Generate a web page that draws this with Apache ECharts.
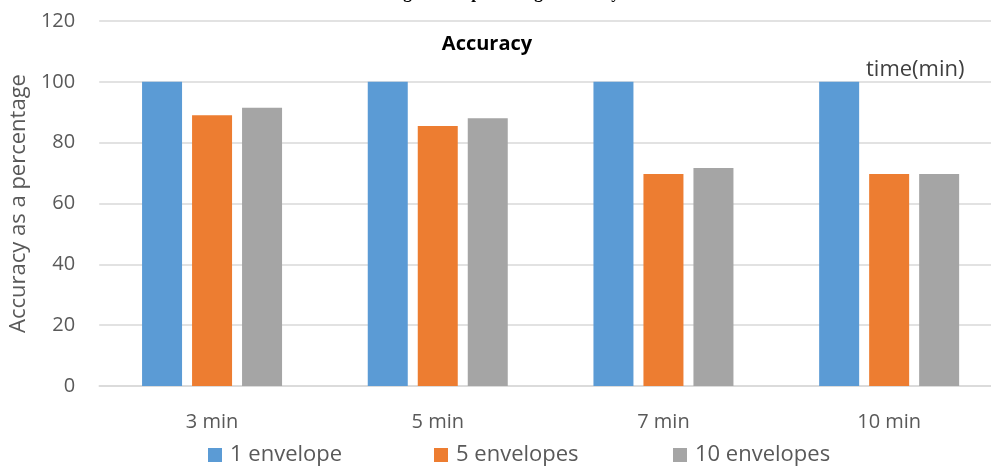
<!DOCTYPE html>
<html>
<head>
<meta charset="utf-8">
<script src="https://cdn.jsdelivr.net/npm/echarts@6/dist/echarts.min.js"></script>
<style>html,body{margin:0;padding:0;background:#fff;overflow:hidden;width:991px;height:469px;}#c{width:1002px;height:469px;}</style>
</head>
<body>
<div id="c"></div>
<script>
const categories = ['3 min', '5 min', '7 min', '10 min'];
const seriesNames = ['1 envelope', '5 envelopes', '10 envelopes'];
const oneEnvelope = [100, 100, 100, 100];
const fiveEnvelopes = [89, 85.5, 69.7, 69.7];
const tenEnvelopes = [91.5, 88, 71.7, 69.7];
const yTicks = [0, 20, 40, 60, 80, 100, 120];
const colors = ['#5B9BD5', '#ED7D31', '#A5A5A5'];

const font = 'Open Sans';
const chart = echarts.init(document.getElementById('c'), null, {renderer: 'canvas'});
const legendLefts = [208, 434, 673];
chart.setOption({
  animation: false,
  textStyle: {fontFamily: font},
  grid: {left: 99, right: 0, top: 21, bottom: 83, containLabel: false},
  xAxis: {
    type: 'category',
    data: categories,
    axisLine: {show: true, lineStyle: {color: '#d9d9d9', width: 1.5}},
    axisTick: {show: false},
    axisLabel: {color: '#595959', fontSize: 20, margin: 26, fontFamily: font}
  },
  yAxis: {
    type: 'value',
    min: yTicks[0], max: yTicks[yTicks.length - 1], interval: 20,
    name: 'Accuracy as a percentage',
    nameLocation: 'middle',
    nameGap: 61,
    nameTextStyle: {color: '#595959', fontSize: 22, fontFamily: font},
    axisLine: {show: false},
    axisTick: {show: false},
    axisLabel: {color: '#595959', fontSize: 20, margin: 24, fontFamily: font},
    splitLine: {lineStyle: {color: '#d9d9d9', width: 1.5}}
  },
  legend: seriesNames.map((n, i) => ({
    data: [n],
    left: legendLefts[i],
    top: 444,
    itemWidth: 14,
    itemHeight: 14,
    icon: 'rect',
    padding: 0,
    textStyle: {color: '#595959', fontSize: 22, fontFamily: font, padding: [0, 0, 0, 3]}
  })),
  graphic: [
    {type: 'text', x: 504, y: 2, style: {text: 'Fig. 6: The percentage accuracy', font: 'bold 17px "Liberation Serif"', fill: '#000', align: 'center', verticalAlign: 'bottom'}},
    {type: 'text', x: 487, y: 44, style: {text: 'Accuracy', font: 'bold 20px "Open Sans"', fill: '#000', align: 'center', verticalAlign: 'middle'}},
    {type: 'text', x: 866, y: 70, style: {text: 'time(min)', font: '22px "Open Sans"', fill: '#404040', align: 'left', verticalAlign: 'middle'}}
  ],
  series: [oneEnvelope, fiveEnvelopes, tenEnvelopes].map((d, i) => ({
    name: seriesNames[i],
    type: 'bar',
    data: d,
    barWidth: 40,
    barGap: '25%',
    itemStyle: {color: colors[i]}
  }))
});
</script>
</body>
</html>
